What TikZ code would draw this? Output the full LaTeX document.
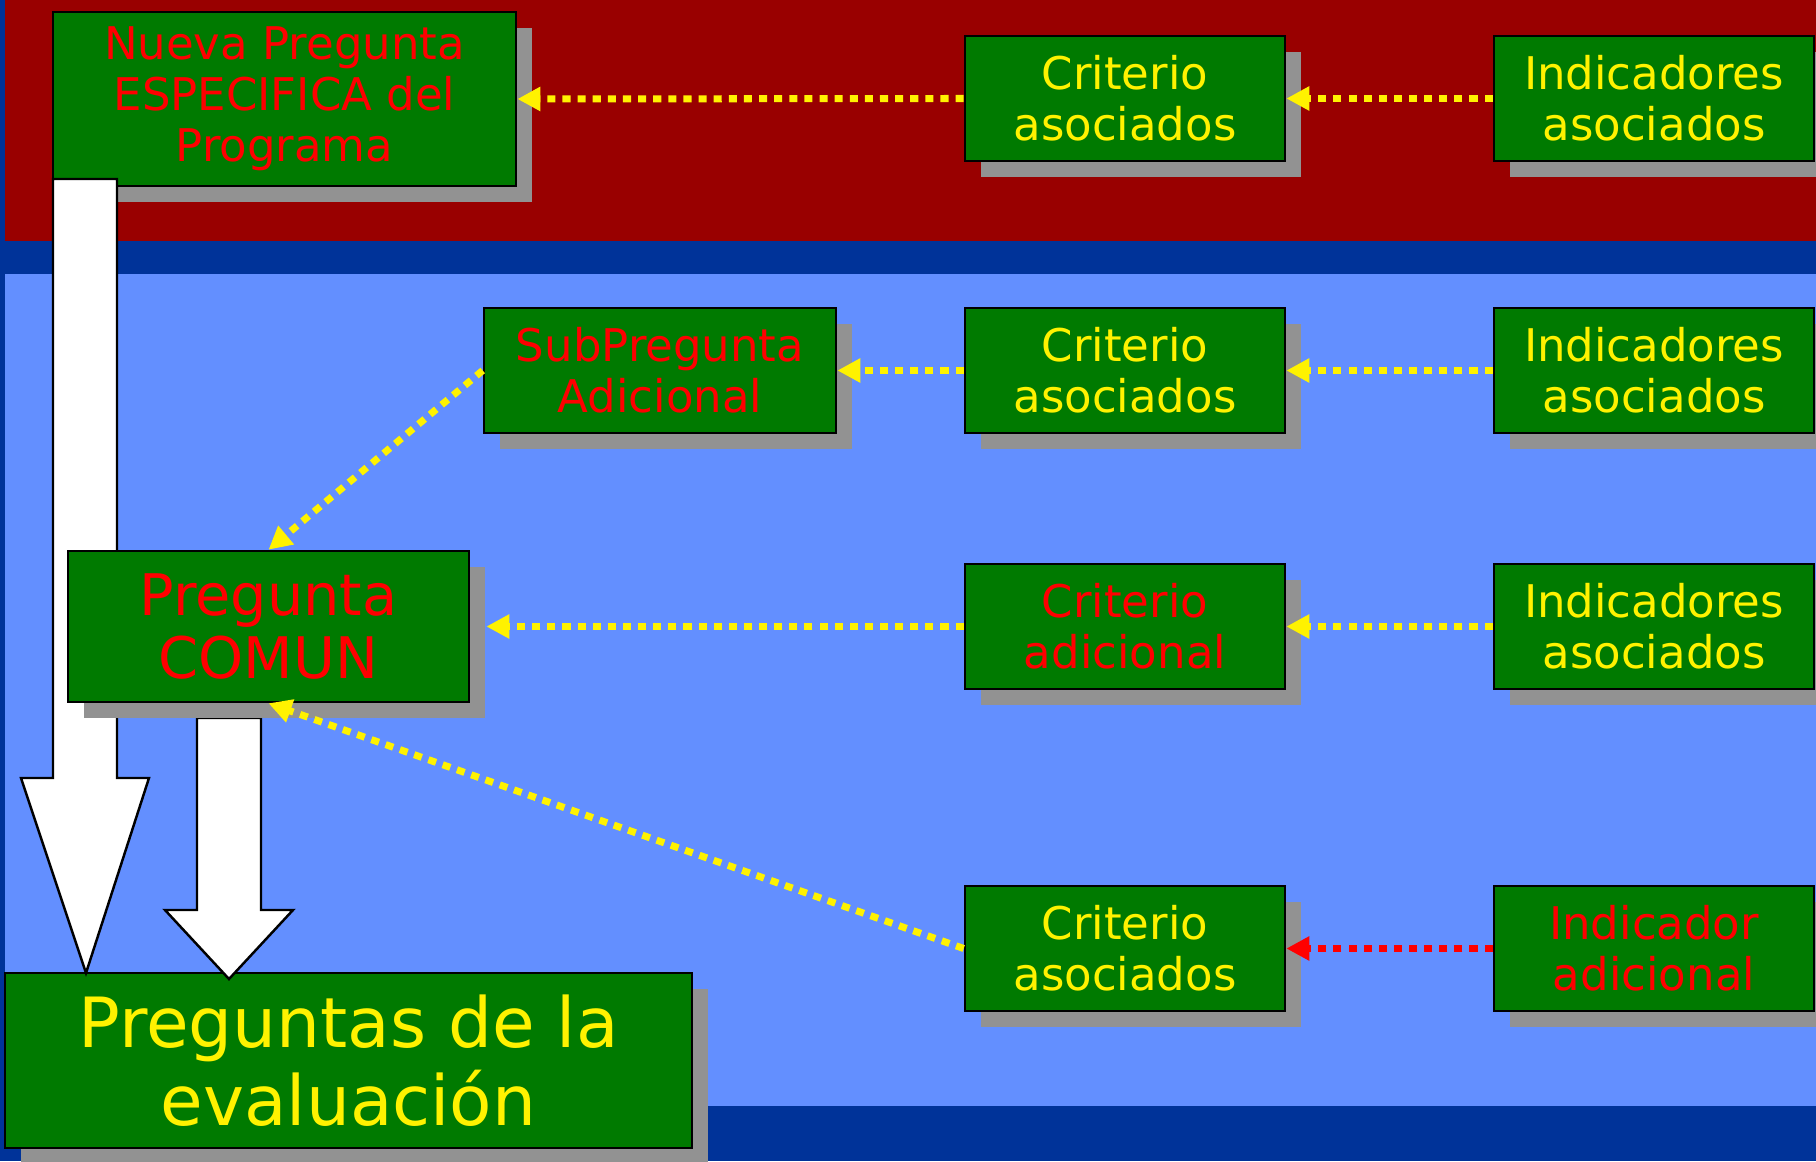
\documentclass[tikz,border=0pt]{standalone}
\usepackage{fontspec}
\setmainfont{DejaVu Sans}
\usetikzlibrary{arrows.meta,shadows}

\definecolor{fondorojo}{RGB}{153,0,0}
\definecolor{azuloscuro}{RGB}{0,51,153}
\definecolor{azulclaro}{RGB}{99,143,255}
\definecolor{verde}{RGB}{0,122,0}
\definecolor{sombra}{RGB}{146,146,146}

\begin{document}
\begin{tikzpicture}[x=0.01cm, y=-0.01cm,
    caja/.style={draw=black, line width=0.7pt, fill=verde, align=center, inner sep=0pt,
      drop shadow={shadow xshift=0.16cm, shadow yshift=-0.16cm, fill=sombra, opacity=1}},
    chica/.style={caja, minimum width=3.2cm, minimum height=1.25cm,
      font=\fontsize{12.8}{14.5}\selectfont},
    amarillo/.style={text=yellow},
    rojo/.style={text=red},
    punteado/.style={yellow, line width=2pt, dash pattern=on 2.3pt off 2pt,
      -{Triangle[length=0.23cm, width=0.23cm]}},
    flecha/.style={fill=white, draw=black, line width=0.7pt}]

  \useasboundingbox (0,0) rectangle (1816,1161);

  % fondo
  \fill[azuloscuro] (0,0) rectangle (1816,1161);
  \fill[fondorojo] (5,0) rectangle (1816,241);
  \fill[azulclaro] (5,274) rectangle (1816,1106);

  % columna izquierda
  \node[caja, amarillo, minimum width=6.87cm, minimum height=1.75cm,
    font=\fontsize{19.7}{22.2}\selectfont] (evaluacion) at (348.5,1060.5) {Preguntas de la\\evaluación};
  \node[caja, rojo, minimum width=4.63cm, minimum height=1.74cm,
    font=\fontsize{12.8}{14.5}\selectfont] (nueva) at (284.5,99) {Nueva Pregunta\\ESPECIFICA del\\Programa};

  % flechas grandes
  \filldraw[flecha] (53,179) -- (117,179) -- (117,778) -- (149,778) -- (86,973)
    -- (21,778) -- (53,778) -- cycle;
  \filldraw[flecha] (197,718) -- (261,718) -- (261,910) -- (293,910) -- (229,979)
    -- (165,910) -- (197,910) -- cycle;

  \node[caja, rojo, minimum width=4.01cm, minimum height=1.51cm,
    font=\fontsize{16.3}{18}\selectfont] (comun) at (268.5,626.5) {Pregunta\\COMUN};
  \node[chica, rojo, minimum width=3.52cm] (sub) at (660,370.5) {SubPregunta\\Adicional};

  % criterios
  \node[chica, amarillo] (crit1) at (1125,98.5) {Criterio\\asociados};
  \node[chica, amarillo] (crit2) at (1125,370.5) {Criterio\\asociados};
  \node[chica, rojo] (crit3) at (1125,626.5) {Criterio\\adicional};
  \node[chica, amarillo] (crit4) at (1125,948.5) {Criterio\\asociados};

  % indicadores
  \node[chica, amarillo] (ind1) at (1654,98.5) {Indicadores\\asociados};
  \node[chica, amarillo] (ind2) at (1654,370.5) {Indicadores\\asociados};
  \node[chica, amarillo] (ind3) at (1654,626.5) {Indicadores\\asociados};
  \node[chica, rojo] (ind4) at (1654,948.5) {Indicador\\adicional};

  % conectores
  \draw[punteado] (ind1.west) -- (crit1.east);
  \draw[punteado] (crit1.west) -- (nueva.east);
  \draw[punteado] (ind2.west) -- (crit2.east);
  \draw[punteado] (crit2.west) -- (sub.east);
  \draw[punteado] (sub.west) -- (comun.north);
  \draw[punteado] (ind3.west) -- (crit3.east);
  \draw[punteado] (crit3.west) -- ([xshift=0.16cm]comun.east);
  \draw[punteado, red] (ind4.west) -- (crit4.east);
  \draw[punteado] (crit4.west) -- (comun.south);

\end{tikzpicture}
\end{document}
